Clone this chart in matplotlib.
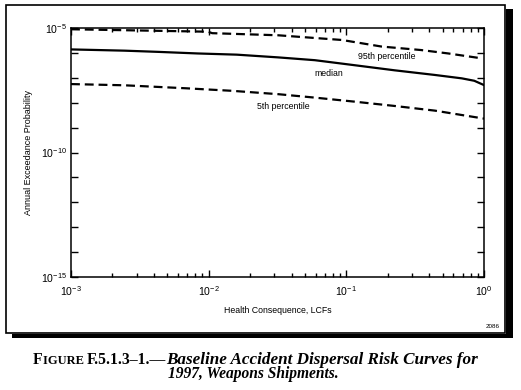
import numpy as np
import matplotlib
matplotlib.use("Agg")
import matplotlib.pyplot as plt
from matplotlib.patches import Rectangle
from matplotlib.ticker import FixedLocator, NullFormatter

plt.rcParams["font.family"] = ["Liberation Sans", "DejaVu Sans"]
plt.rcParams["mathtext.fontset"] = "custom"
plt.rcParams["mathtext.rm"] = "Liberation Sans"
plt.rcParams["mathtext.default"] = "regular"

# health consequence (LCFs) and annual exceedance probability
x_p95 = [1.0e-3, 9.9e-3, 1.06e-2, 3.2e-2, 9.3e-2, 0.18, 0.35, 0.55, 0.97]
y_p95 = [8.9e-6, 7.1e-6, 6.2e-6, 5.1e-6, 3.3e-6, 1.8e-6, 1.3e-6, 9.5e-7, 6.0e-7]

x_med = [1.0e-3, 2.45e-3, 4.3e-3, 8.3e-3, 1.6e-2, 3.2e-2, 5.9e-2, 0.115, 0.224, 0.44, 0.69, 0.85, 1.0]
y_med = [1.38e-6, 1.23e-6, 1.10e-6, 9.5e-7, 8.5e-7, 6.6e-7, 5.1e-7, 3.2e-7, 2.0e-7, 1.3e-7, 9.5e-8, 7.6e-8, 5.1e-8]

x_p05 = [1.0e-3, 2.45e-3, 6.8e-3, 1.48e-2, 3.2e-2, 5.9e-2, 0.115, 0.224, 0.44, 0.69, 1.0]
y_p05 = [5.6e-8, 5.0e-8, 3.8e-8, 3.0e-8, 2.2e-8, 1.6e-8, 1.1e-8, 7.4e-9, 4.8e-9, 3.2e-9, 2.3e-9]

curve_labels = ["95th percentile", "median", "5th percentile"]
label_pos = [(0.195, 7.2e-7), (0.074, 1.55e-7), (0.035, 6.8e-9)]

x_ticks = [1e-3, 1e-2, 1e-1, 1e0]
x_ticklabels = [r"$10^{-3}$", r"$10^{-2}$", r"$10^{-1}$", r"$10^{0}$"]
y_ticks = [1e-15, 1e-10, 1e-5]
y_ticklabels = [r"$10^{-15}$", r"$10^{-10}$", r"$10^{-5}$"]

W, H = 521, 390
fig = plt.figure(figsize=(W / 100, H / 100), dpi=100)


def fx(px):
    return px / W


def fy(py):
    return 1 - py / H


# shadow + frame
fig.add_artist(Rectangle((fx(12), fy(338)), fx(513) - fx(12), fy(334) - fy(338),
                         facecolor="black", edgecolor="none", transform=fig.transFigure))
fig.add_artist(Rectangle((fx(506), fy(338)), fx(513) - fx(506), fy(9) - fy(338),
                         facecolor="black", edgecolor="none", transform=fig.transFigure))
fig.add_artist(Rectangle((fx(6), fy(333)), fx(505) - fx(6), fy(5) - fy(333),
                         facecolor="none", edgecolor="black", lw=1.2, transform=fig.transFigure))

ax = fig.add_axes([fx(71), fy(277), fx(484) - fx(71), fy(28) - fy(277)])
ax.set_xscale("log")
ax.set_yscale("log")
ax.set_xlim(1e-3, 1e0)
ax.set_ylim(1e-15, 1e-5)

dash = (0, (4, 2.2))
ax.plot(x_p95, y_p95, color="black", lw=1.6, linestyle=dash)
ax.plot(x_med, y_med, color="black", lw=1.6)
ax.plot(x_p05, y_p05, color="black", lw=1.6, linestyle=dash)

for txt, (lx, ly) in zip(curve_labels, label_pos):
    ax.text(lx, ly, txt, fontsize=6.3, ha="center", va="center")

ax.set_xticks(x_ticks)
ax.set_xticklabels(x_ticklabels)
ax.xaxis.set_minor_locator(FixedLocator([m * d for d in [1e-3, 1e-2, 1e-1] for m in range(2, 10)]))
ax.xaxis.set_minor_formatter(NullFormatter())
ax.set_yticks(y_ticks)
ax.set_yticklabels(y_ticklabels)
ax.yaxis.set_minor_locator(FixedLocator([10.0 ** k for k in range(-14, -5) if k != -10]))
ax.yaxis.set_minor_formatter(NullFormatter())

ax.tick_params(which="both", direction="in", top=True, right=True, width=1.0, labelsize=7.6)
ax.tick_params(axis="x", which="major", length=5, pad=5)
ax.tick_params(axis="x", which="minor", length=3)
ax.tick_params(axis="y", which="both", length=5, pad=3)
for s in ax.spines.values():
    s.set_linewidth(1.1)

ax.set_xlabel("Health Consequence, LCFs", fontsize=6.3, labelpad=6)
ax.set_ylabel("Annual Exceedance Probability", fontsize=6.5, labelpad=6)

fig.text(fx(500), fy(327), "2086", fontsize=4.5, ha="right", va="center")

# caption: small-cap "FIGURE", then bold italic title
cap_font = ["Liberation Serif", "DejaVu Serif"]
fig.canvas.draw()
renderer = fig.canvas.get_renderer()


def put(x, y, s, **kw):
    t = fig.text(x, y, s, family=cap_font, va="baseline", **kw)
    bb = t.get_window_extent(renderer)
    return x + bb.width / W


x0 = fx(33)
y1 = fy(364)
x0 = put(x0, y1, "F", fontsize=11.3, weight="bold")
x0 = put(x0, y1, "IGURE ", fontsize=9.0, weight="bold")
x0 = put(x0, y1, "F.5.1.3\u20131.\u2014", fontsize=11.3, weight="bold")
put(x0, y1, "Baseline Accident Dispersal Risk Curves for", fontsize=12.3,
    weight="bold", style="italic")
fig.text(fx(253), fy(378.5), "1997, Weapons Shipments.", family=cap_font, fontsize=11.2,
         weight="bold", style="italic", ha="center", va="baseline")

fig.savefig("out.png", dpi=100)
